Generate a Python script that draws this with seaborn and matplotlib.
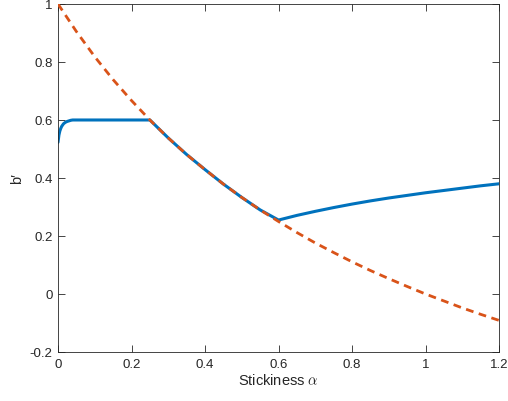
import numpy as np
import pandas as pd
import matplotlib
matplotlib.use("Agg")
import matplotlib.pyplot as plt
import seaborn as sns

# Upper bound curve (dashed)
bound_alpha = [0.0, 0.05, 0.1, 0.15, 0.2, 0.25, 0.3, 0.35, 0.4, 0.45, 0.5, 0.55, 0.6,
               0.65, 0.7, 0.75, 0.8, 0.85, 0.9, 0.95, 1.0, 1.05, 1.1, 1.15, 1.2]
bound_b = [1.0, 0.905, 0.818, 0.739, 0.667, 0.6, 0.538, 0.481, 0.429, 0.379, 0.333, 0.290, 0.25,
           0.212, 0.176, 0.143, 0.111, 0.081, 0.053, 0.026, 0.0, -0.024, -0.048, -0.070, -0.091]

# Equilibrium b' (solid)
eq_alpha = [0.0, 0.0025, 0.005, 0.0075, 0.01, 0.015, 0.02, 0.025, 0.03, 0.035, 0.04, 0.1, 0.2,
            0.25, 0.3, 0.35, 0.4, 0.45, 0.5, 0.55, 0.6,
            0.65, 0.7, 0.75, 0.8, 0.85, 0.9, 0.95, 1.0, 1.05, 1.1, 1.15, 1.2]
eq_b = [0.523, 0.548, 0.562, 0.571, 0.578, 0.587, 0.592, 0.595, 0.597, 0.599, 0.6, 0.6, 0.6,
        0.6, 0.538, 0.481, 0.429, 0.379, 0.333, 0.290, 0.255,
        0.271, 0.285, 0.298, 0.310, 0.321, 0.331, 0.340, 0.349, 0.357, 0.365, 0.373, 0.380]

x_ticks = [0, 0.2, 0.4, 0.6, 0.8, 1.0, 1.2]
x_tick_labels = ["0", "0.2", "0.4", "0.6", "0.8", "1", "1.2"]
y_ticks = [-0.2, 0, 0.2, 0.4, 0.6, 0.8, 1.0]
y_tick_labels = ["-0.2", "0", "0.2", "0.4", "0.6", "0.8", "1"]

sns.set_theme(style="white")
plt.rcParams["font.family"] = ["Liberation Sans", "DejaVu Sans"]
plt.rcParams["mathtext.fontset"] = "cm"

axis_gray = "#262626"
blue = "#0072BD"
orange = "#D95319"

fig = plt.figure(figsize=(5.08, 4.02), dpi=100)
ax = fig.add_axes([0.1142, 0.1219, 0.8681, 0.8657])

eq_df = pd.DataFrame({"alpha": eq_alpha, "b": eq_b})
bound_df = pd.DataFrame({"alpha": bound_alpha, "b": bound_b})

sns.lineplot(data=eq_df, x="alpha", y="b", ax=ax, color=blue, linewidth=2.2,
             sort=False, estimator=None, zorder=2)
sns.lineplot(data=bound_df, x="alpha", y="b", ax=ax, color=orange, linewidth=2.0,
             sort=False, estimator=None, zorder=3)
ax.lines[-1].set_dashes([2.8, 2.0])
ax.lines[-1].set_dash_capstyle("butt")

ax.set_xlim(0, 1.2)
ax.set_ylim(-0.2, 1.0)
ax.set_xticks(x_ticks)
ax.set_xticklabels(x_tick_labels)
ax.set_yticks(y_ticks)
ax.set_yticklabels(y_tick_labels)

ax.tick_params(axis="both", which="both", direction="in", length=5, width=0.6,
               colors=axis_gray, labelsize=9.5, top=True, right=True,
               left=True, bottom=True, pad=4)
for side in ["left", "right", "top", "bottom"]:
    ax.spines[side].set_visible(True)
    ax.spines[side].set_color(axis_gray)
    ax.spines[side].set_linewidth(0.6)

ax.set_xlabel(r"Stickiness $\alpha$", fontsize=10.5, color=axis_gray, labelpad=2)
ax.set_ylabel("b\u2032", fontsize=10.5, color=axis_gray, labelpad=4)
ax.grid(False)

fig.savefig("out.png", dpi=100)
